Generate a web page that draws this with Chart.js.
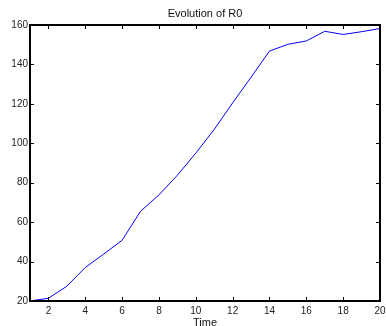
<!DOCTYPE html>
<html><head><meta charset="utf-8">
<script src="https://cdn.jsdelivr.net/npm/chart.js@4/dist/chart.umd.min.js"></script>
<style>html,body{margin:0;padding:0;background:#fff}#wrap{width:386px;height:326px}</style>
</head><body><div id="wrap"><canvas id="c" width="386" height="326"></canvas></div>
<script>
const times = [1,2,3,4,5,6,7,8,9,10,11,12,13,14,15,16,17,18,19,20];
const r0 = [20,21.4,27.5,37,43.8,50.8,65.5,73.8,83.8,95,107,120.5,133.5,146.8,150.2,151.9,156.8,155.2,156.6,158.2];
const xTicks = [2,4,6,8,10,12,14,16,18,20];
const yTicks = [20,40,60,80,100,120,140,160];
const titleText = 'Evolution of R0';
const xLabel = 'Time';

const FONT = 'Liberation Sans';

const boxPlugin = {
  id: 'matlabBox',
  afterDatasetsDraw(chart) {
    const {ctx, chartArea: a, scales} = chart;
    ctx.save();
    ctx.strokeStyle = '#000';
    ctx.lineWidth = 1;
    ctx.beginPath();
    xTicks.forEach(v => {
      const px = Math.round(scales.x.getPixelForValue(v)) + 0.5;
      ctx.moveTo(px, a.bottom); ctx.lineTo(px, a.bottom - 4);
      ctx.moveTo(px, a.top); ctx.lineTo(px, a.top + 4);
    });
    yTicks.forEach(v => {
      const py = Math.round(scales.y.getPixelForValue(v)) + 0.5;
      ctx.moveTo(a.left, py); ctx.lineTo(a.left + 4, py);
      ctx.moveTo(a.right, py); ctx.lineTo(a.right - 4, py);
    });
    ctx.stroke();
    ctx.lineWidth = 2;
    ctx.strokeRect(a.left, a.top, a.right - a.left, a.bottom - a.top);
    ctx.restore();
  }
};

new Chart(document.getElementById('c'), {
  type: 'line',
  data: {
    datasets: [{
      data: times.map((t, i) => ({x: t, y: r0[i]})),
      borderColor: '#0000ff',
      borderWidth: 1,
      pointRadius: 0,
      tension: 0,
      fill: false
    }]
  },
  options: {
    responsive: false,
    devicePixelRatio: 1,
    animation: false,
    layout: {padding: {left: 0, right: 6, top: 0, bottom: 0}},
    plugins: {
      legend: {display: false},
      tooltip: {enabled: false},
      title: {
        display: true,
        text: titleText,
        fullSize: false,
        color: '#111',
        font: {family: FONT, size: 11, weight: 'normal', lineHeight: 1.0},
        padding: {top: 8, bottom: 6}
      }
    },
    scales: {
      x: {
        type: 'linear',
        min: 1, max: 20,
        afterBuildTicks: s => { s.ticks = xTicks.map(v => ({value: v})); },
        afterFit: s => { s.height = 25; s.paddingLeft = 0; s.paddingRight = 0; },
        grid: {display: false, drawTicks: false},
        border: {display: false},
        ticks: {color: '#222', font: {family: FONT, size: 10}, padding: 4, maxRotation: 0, autoSkip: false},
        title: {display: true, text: xLabel, color: '#111', padding: 0,
                font: {family: FONT, size: 11, lineHeight: 0.49}}
      },
      y: {
        type: 'linear',
        min: 20, max: 160,
        afterBuildTicks: s => { s.ticks = yTicks.map(v => ({value: v})); },
        afterFit: s => { s.width = 30; s.paddingTop = 0; s.paddingBottom = 0; },
        grid: {display: false, drawTicks: false},
        border: {display: false},
        ticks: {color: '#222', font: {family: FONT, size: 10}, padding: 2, autoSkip: false}
      }
    }
  },
  plugins: [boxPlugin]
});
</script>
</body></html>
